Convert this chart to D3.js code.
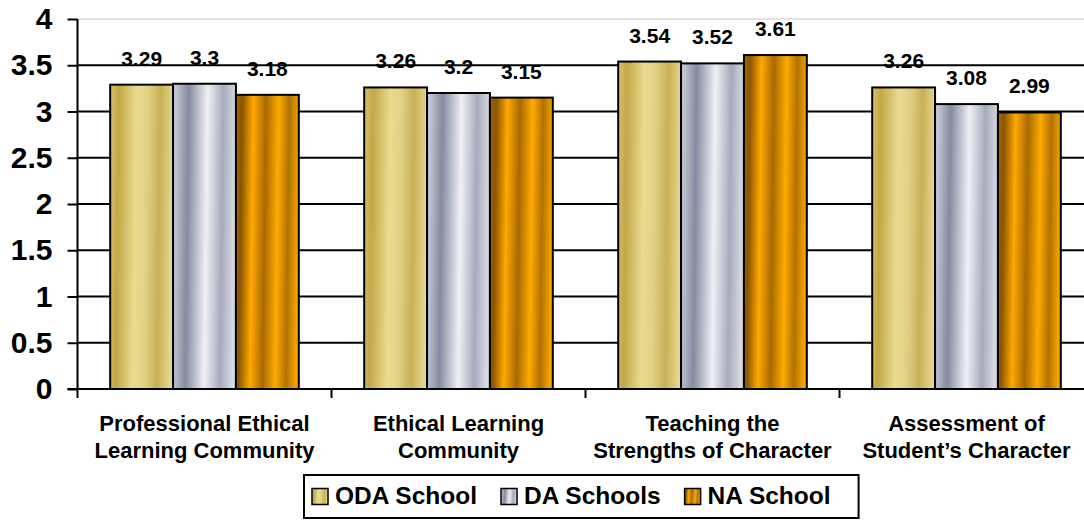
<!DOCTYPE html>
<html>
<head>
<meta charset="utf-8">
<script src="https://cdn.jsdelivr.net/npm/d3@7"></script>
<style>
  body { margin: 0; background: #fff; }
  text { font-family: "Liberation Sans", Arial, sans-serif; font-weight: bold; fill: #000; }
</style>
</head>
<body>
<div id="chart"></div>
<script>
// data
var categories = [
  ["Professional Ethical", "Learning Community"],
  ["Ethical Learning", "Community"],
  ["Teaching the", "Strengths of Character"],
  ["Assessment of", "Student\u2019s Character"]
];
var seriesNames = ["ODA School", "DA Schools", "NA School"];
var odaValues = [3.29, 3.26, 3.54, 3.26];
var daValues = [3.3, 3.2, 3.52, 3.08];
var naValues = [3.18, 3.15, 3.61, 2.99];
var yTicks = [0, 0.5, 1, 1.5, 2, 2.5, 3, 3.5, 4];

var seriesValues = [odaValues, daValues, naValues];

var W = 1084, H = 520;
var plotLeft = 77.5, plotRight = 1093.5, plotTop = 19, plotBottom = 389;

var svg = d3.select("#chart").append("svg")
  .attr("width", W).attr("height", H);

// metallic stripe gradients
var defs = svg.append("defs");
var gradStops = [
  [[0, "#d8c270"], [0.14, "#c4a646"], [0.42, "#e8dc90"], [0.6, "#e0d084"], [0.8, "#c9b056"], [1, "#e4d68a"]],
  [[0, "#d2d4dc"], [0.25, "#838aa2"], [0.55, "#f0f0f4"], [0.8, "#a6aabc"], [1, "#d8dae2"]],
  [[0, "#a46600"], [0.1, "#8a5400"], [0.28, "#ffa800"], [0.48, "#a86a00"], [0.68, "#ffaa00"], [0.85, "#b07200"], [1, "#f4a200"]]
];
gradStops.forEach(function(stops, i) {
  var g = defs.append("linearGradient")
    .attr("id", "grad" + i)
    .attr("x1", 0).attr("y1", 0).attr("x2", 1).attr("y2", 0.06);
  stops.forEach(function(s) {
    g.append("stop").attr("offset", s[0]).attr("stop-color", s[1]);
  });
});

var x0 = d3.scaleBand().domain(d3.range(categories.length)).range([plotLeft, plotRight]);
var x1 = d3.scaleBand().domain(d3.range(seriesNames.length))
  .range([0, x0.bandwidth()]).paddingInner(0).paddingOuter(0.52);
var y = d3.scaleLinear().domain([0, 4]).range([plotBottom, plotTop]);

// gridlines
svg.append("g").selectAll("line")
  .data(yTicks.filter(function(t) { return t > 0; }))
  .enter().append("line")
  .attr("x1", plotLeft).attr("x2", W)
  .attr("y1", function(d) { return y(d); })
  .attr("y2", function(d) { return y(d); })
  .attr("stroke", function(d) { return d === 4 ? "#c8c8c8" : "#000"; })
  .attr("stroke-width", function(d) { return d === 4 ? 1 : 2; });

// bars
var groups = svg.append("g").selectAll("g")
  .data(categories)
  .enter().append("g")
  .attr("transform", function(d, i) { return "translate(" + x0(i) + ",0)"; });

function cellData(d, ci) {
  return seriesValues.map(function(vals, si) { return { si: si, v: vals[ci] }; });
}

groups.selectAll("rect")
  .data(cellData)
  .enter().append("rect")
  .attr("x", function(d) { return x1(d.si); })
  .attr("width", x1.bandwidth())
  .attr("y", function(d) { return y(d.v); })
  .attr("height", function(d) { return y(0) - y(d.v); })
  .attr("fill", function(d) { return "url(#grad" + d.si + ")"; })
  .attr("stroke", "#000")
  .attr("stroke-width", 2);

groups.selectAll("text.val")
  .data(cellData)
  .enter().append("text")
  .attr("class", "val")
  .attr("x", function(d) { return x1(d.si) + x1.bandwidth() / 2; })
  .attr("y", function(d) { return y(d.v) - 19; })
  .attr("text-anchor", "middle")
  .style("font-size", "21px")
  .text(function(d) { return d.v; });

// y axis
var yAxis = svg.append("g")
  .attr("transform", "translate(" + plotLeft + ",0)")
  .call(d3.axisLeft(y).tickValues(yTicks).tickFormat(d3.format("")).tickSize(10).tickPadding(15));
yAxis.select(".domain").attr("stroke-width", 2).attr("d", "M0," + plotTop + "V" + plotBottom);
yAxis.selectAll(".tick line").attr("stroke-width", 2);
yAxis.selectAll(".tick text")
  .style("font-size", "30px")
  .style("font-family", "'Liberation Sans', Arial, sans-serif")
  .style("font-weight", "bold")
  .attr("fill", "#000");

// x axis line + category separators
svg.append("line")
  .attr("x1", plotLeft - 10).attr("x2", W)
  .attr("y1", plotBottom).attr("y2", plotBottom)
  .attr("stroke", "#000").attr("stroke-width", 2);
svg.append("g").selectAll("line")
  .data(d3.range(categories.length + 1))
  .enter().append("line")
  .attr("x1", function(i) { return plotLeft + i * x0.step(); })
  .attr("x2", function(i) { return plotLeft + i * x0.step(); })
  .attr("y1", plotBottom).attr("y2", plotBottom + 9)
  .attr("stroke", "#000").attr("stroke-width", 2);

// category labels
var catText = svg.append("g").selectAll("text")
  .data(categories)
  .enter().append("text")
  .attr("text-anchor", "middle")
  .style("font-size", "22px");
catText.each(function(lines, i) {
  var t = d3.select(this);
  lines.forEach(function(line, k) {
    t.append("tspan")
      .attr("x", x0(i) + x0.bandwidth() / 2)
      .attr("y", 431 + k * 27)
      .text(line);
  });
});

// legend
var legend = svg.append("g");
var legendBox = legend.append("rect")
  .attr("y", 475).attr("height", 43)
  .attr("fill", "#fff").attr("stroke", "#000").attr("stroke-width", 2);
var lx = 312;
seriesNames.forEach(function(name, i) {
  legend.append("rect")
    .attr("x", lx).attr("y", 488.5)
    .attr("width", 16).attr("height", 16)
    .attr("fill", "url(#grad" + i + ")")
    .attr("stroke", "#000").attr("stroke-width", 1.5);
  var t = legend.append("text")
    .attr("x", lx + 23).attr("y", 504)
    .style("font-size", "24.5px")
    .text(name);
  lx = lx + 23 + t.node().getComputedTextLength() + 24;
});
legendBox.attr("x", 304).attr("width", lx - 300);
</script>
</body>
</html>
